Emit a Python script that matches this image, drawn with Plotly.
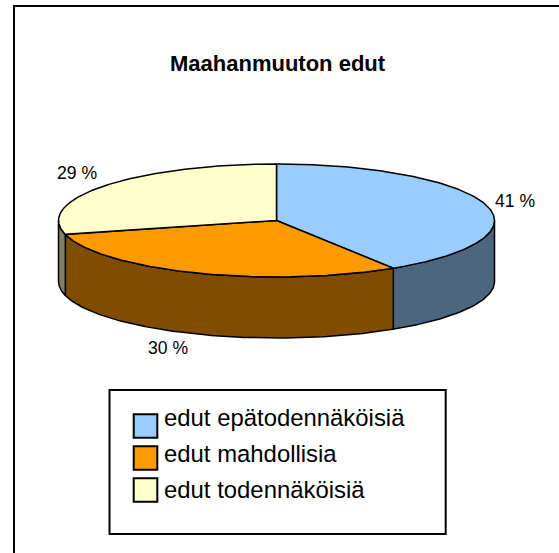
import numpy as np
import plotly.graph_objects as go

title = "Maahanmuuton edut"
categories = ["edut epätodennäköisiä", "edut mahdollisia", "edut todennäköisiä"]
values = [41, 30, 29]
top_colors = ["#99CCFF", "#FF9900", "#FFFFCC"]
side_colors = ["#4D6680", "#804D00", "#808066"]

# pie geometry in page pixels
CX, CY, RX, RY, DEPTH = 276.5, 220.5, 218.0, 56.5, 61.0
FONT = "Liberation Sans"


def ell(t, dy=0.0):
    return CX + RX * np.sin(t), CY - RY * np.cos(t) + dy


fig = go.Figure()
total = sum(values)
edges = np.concatenate([[0], np.cumsum(values)]) / total * 2 * np.pi

# side walls: only the front half of the pie (pi/2 .. 3pi/2) is visible
for i in range(len(values)):
    a, b = max(edges[i], np.pi / 2), min(edges[i + 1], 3 * np.pi / 2)
    if b <= a:
        continue
    t = np.linspace(a, b, 120)
    x1, y1 = ell(t)
    x2, y2 = ell(t[::-1], DEPTH)
    fig.add_trace(go.Scatter(
        x=np.r_[x1, x2, x1[0]], y=np.r_[y1, y2, y1[0]], mode="lines",
        fill="toself", fillcolor=side_colors[i],
        line=dict(color="#000000", width=1.5), hoverinfo="skip", showlegend=False,
    ))

# top slices
for i in range(len(values)):
    t = np.linspace(edges[i], edges[i + 1], 240)
    x, y = ell(t)
    fig.add_trace(go.Scatter(
        x=np.r_[CX, x, CX], y=np.r_[CY, y, CY], mode="lines",
        fill="toself", fillcolor=top_colors[i],
        line=dict(color="#000000", width=1.5), name=categories[i], showlegend=False,
    ))

# legend swatches
swatch_y = [426, 458, 490]
label_y = [417, 453, 489.5]
fig.add_trace(go.Scatter(
    x=[145.5] * 3, y=swatch_y, mode="markers", hoverinfo="skip", showlegend=False,
    marker=dict(symbol="square", size=23.6, color=top_colors,
                line=dict(color="#000000", width=2)),
))

ann = [dict(x=278, y=63.5, text=f"<b>{title}</b>", font=dict(size=22))]
for v, lx, ly in zip(values, [515, 168, 76.5], [200.5, 348, 173]):
    ann.append(dict(x=lx, y=ly, text=f"{v} %", font=dict(size=17.6)))
for c, ly in zip(categories, label_y):
    ann.append(dict(x=162, y=ly, text=c, xanchor="left", font=dict(size=23.9)))
for a in ann:
    a.setdefault("xanchor", "center")
    a.update(xref="x", yref="y", yanchor="middle", showarrow=False)
    a["font"].update(family=FONT, color="#000000")

shapes = [
    dict(type="line", x0=14, x1=14, y0=5, y1=553, line=dict(color="#000000", width=2)),
    dict(type="line", x0=13, x1=559, y0=6, y1=6, line=dict(color="#000000", width=2)),
    dict(type="rect", x0=109.5, x1=445.7, y0=390, y1=534, line=dict(color="#000000", width=2)),
]

fig.update_layout(
    width=559, height=553, margin=dict(l=0, r=0, t=0, b=0),
    paper_bgcolor="#FFFFFF", plot_bgcolor="#FFFFFF", showlegend=False,
    xaxis=dict(range=[0, 559], visible=False, fixedrange=True),
    yaxis=dict(range=[553, 0], visible=False, fixedrange=True),
    annotations=ann, shapes=shapes,
)
fig.write_html(
    "out.html",
    config={"displayModeBar": False},
    post_script="document.body.style.margin='0';document.documentElement.style.overflow='hidden';",
)
